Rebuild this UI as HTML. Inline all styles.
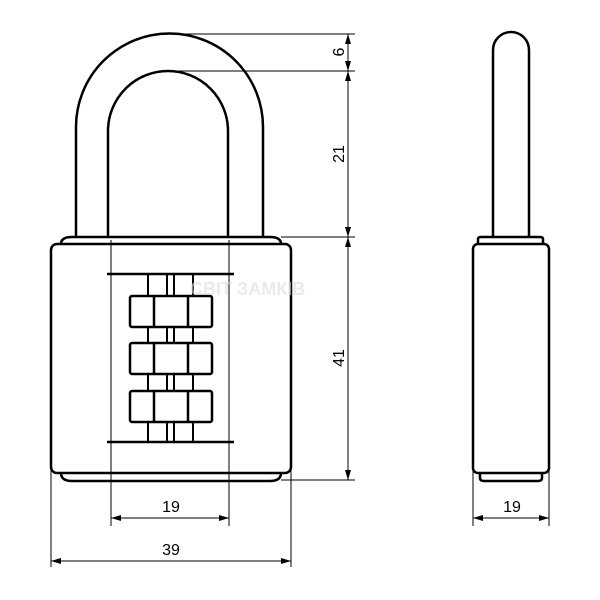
<!DOCTYPE html>
<html><head><style>body{margin:0;background:#fff}svg{display:block}</style></head><body>
<svg width="600" height="600" viewBox="0 0 600 600" xmlns="http://www.w3.org/2000/svg">
<defs>
<marker id="a" viewBox="0 0 10 6" refX="10" refY="3" markerWidth="10" markerHeight="6" orient="auto-start-reverse" markerUnits="userSpaceOnUse"><path d="M0,0 L10,3 L0,6z" fill="#000"/></marker>
</defs>
<g fill="none" stroke="#000" stroke-width="2.5" stroke-linejoin="round">
<!-- shackle front -->
<path d="M76,237 V127 A93.5,93.5 0 0 1 263,127 V237"/>
<path d="M108,237 V131 A60,60 0 0 1 228,131 V237"/>
<!-- top flange -->
<path d="M61,244 Q61,237 72,237 H270 Q281,237 281,244"/>
<!-- body -->
<rect x="51" y="244" width="240" height="229" rx="6" fill="#fff"/>
<path d="M61,473 Q61,481 72,481 H270 Q281,481 281,473"/>
<!-- wheels -->
<line x1="107" y1="274" x2="234" y2="274"/>
<line x1="107" y1="442" x2="234" y2="442"/>
<g stroke-width="2">
<path d="M148,274V296M167,274V296M174,274V296M193,274V296"/>
<path d="M148,327V343M167,327V343M174,327V343M193,327V343"/>
<path d="M148,374V391M167,374V391M174,374V391M193,374V391"/>
<path d="M148,421V442M167,421V442M174,421V442M193,421V442"/>
</g>
<rect x="130" y="296" width="82" height="31" rx="2"/>
<rect x="130" y="343" width="82" height="31" rx="2"/>
<rect x="130" y="391" width="82" height="31" rx="2"/>
<path d="M154,296V327M188,296V327M154,343V374M188,343V374M154,391V422M188,391V422"/>
<!-- side view -->
<path d="M493,237 V50 A18,18 0 0 1 529,50 V237"/>
<path d="M478,244 V239 Q478,237 481,237 H540 Q543,237 543,239 V244"/>
<rect x="473" y="244" width="76" height="229" rx="5" fill="#fff"/>
<path d="M480,473 V478 Q480,481 484,481 H538 Q542,481 542,478 V473"/>
</g>
<g stroke="#000" stroke-width="1" fill="none">
<line x1="111" y1="240" x2="111" y2="526"/>
<line x1="229" y1="240" x2="229" y2="526"/>
<line x1="51" y1="470" x2="51" y2="567"/>
<line x1="291" y1="470" x2="291" y2="567"/>
<line x1="473" y1="470" x2="473" y2="526"/>
<line x1="549" y1="470" x2="549" y2="526"/>
<line x1="170" y1="34" x2="355" y2="34"/>
<line x1="168" y1="71" x2="355" y2="71"/>
<line x1="281" y1="237" x2="355" y2="237"/>
<line x1="281" y1="480" x2="355" y2="480"/>
<line x1="348" y1="34" x2="348" y2="71" marker-start="url(#a)" marker-end="url(#a)"/>
<line x1="348" y1="71" x2="348" y2="237" marker-start="url(#a)" marker-end="url(#a)"/>
<line x1="348" y1="237" x2="348" y2="480" marker-start="url(#a)" marker-end="url(#a)"/>
<line x1="111" y1="518" x2="229" y2="518" marker-start="url(#a)" marker-end="url(#a)"/>
<line x1="51" y1="561" x2="291" y2="561" marker-start="url(#a)" marker-end="url(#a)"/>
<line x1="473" y1="518" x2="549" y2="518" marker-start="url(#a)" marker-end="url(#a)"/>
</g>
<g font-family="Liberation Sans, sans-serif" font-size="16" fill="#000" text-anchor="middle">
<text x="171" y="512">19</text>
<text x="171" y="555">39</text>
<text x="512" y="512">19</text>
<text transform="translate(344,52) rotate(-90)">6</text>
<text transform="translate(344,154) rotate(-90)">21</text>
<text transform="translate(344,358) rotate(-90)">41</text>
</g>
<text x="190" y="295" font-family="Liberation Sans, sans-serif" font-size="18" font-weight="bold" fill="#ddd" opacity="0.6">СВІТ ЗАМКІВ</text>
</svg>
</body></html>
